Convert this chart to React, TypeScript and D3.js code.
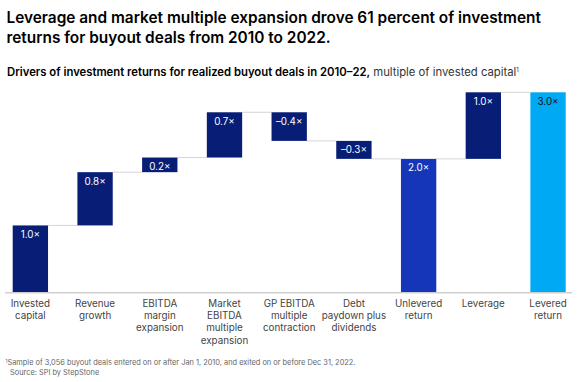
import React from "react";
import * as d3 from "d3";

const categories: string[][] = [
  ["Invested", "capital"],
  ["Revenue", "growth"],
  ["EBITDA", "margin", "expansion"],
  ["Market", "EBITDA", "multiple", "expansion"],
  ["GP EBITDA", "multiple", "contraction"],
  ["Debt", "paydown plus", "dividends"],
  ["Unlevered", "return"],
  ["Leverage"],
  ["Levered", "return"],
];
const values: number[] = [1.0, 0.8, 0.22, 0.68, -0.43, -0.27, 2.0, 1.0, 3.0];
const kinds: string[] = ["step", "step", "step", "step", "step", "step", "total", "step", "grand"];

const W = 580;
const H = 382;
const FONT = "Inter, 'Noto Sans', Roboto, sans-serif";

const fmt = (v: number) => d3.format(".1f")(v).replace("-", "–").replace("−", "–") + "×";

export default function App() {
  const x = d3
    .scaleBand<number>()
    .domain(d3.range(values.length))
    .range([12.7, 565.7])
    .paddingInner(0.454)
    .paddingOuter(0);
  const y = d3.scaleLinear().domain([0, 3]).range([292, 92.3]);

  let running = 0;
  const segs = values.map((v, i) => {
    let y0: number, y1: number;
    if (kinds[i] === "step") {
      y0 = running;
      y1 = running + v;
      running = y1;
    } else {
      y0 = 0;
      y1 = v;
      if (kinds[i] === "total") running = v;
    }
    return { i, lo: Math.min(y0, y1), hi: Math.max(y0, y1), end: y1 };
  });

  const colorFor = (k: string) =>
    k === "total" ? "#1536b8" : k === "grand" ? "#00a9f4" : "#071d76";

  const bw = x.bandwidth();

  return (
    <svg
      width={W}
      height={H}
      style={{ position: "absolute", left: 0, top: 0, background: "#fff" }}
      fontFamily={FONT}
    >
      <text x={6.5} y={23} fontSize={15.4} fontWeight={600} fill="#000">
        Leverage and market multiple expansion drove 61 percent of investment
      </text>
      <text x={6.5} y={43} fontSize={15.4} fontWeight={600} fill="#000">
        returns for buyout deals from 2010 to 2022.
      </text>
      <text x={7} y={75.5} fontSize={11.3} fill="#000">
        <tspan fontWeight={600}>Drivers of investment returns for realized buyout deals in 2010–22,</tspan>
        <tspan fill="#333"> multiple of invested capital</tspan>
        <tspan fontSize={6} dy={-4} fill="#333">1</tspan>
      </text>

      {segs.slice(0, -1).map((s, i) => {
        const level = kinds[i] === "grand" ? s.hi : s.end;
        const x1 = (x(i) as number) + bw;
        const x2 = x(i + 1) as number;
        return (
          <line
            key={"c" + i}
            x1={x1}
            x2={x2}
            y1={y(level)}
            y2={y(level)}
            stroke="#d4d4d4"
            strokeWidth={1}
          />
        );
      })}

      {segs.map((s) => (
        <rect
          key={"b" + s.i}
          x={x(s.i)}
          y={y(s.hi)}
          width={bw}
          height={y(s.lo) - y(s.hi)}
          fill={colorFor(kinds[s.i])}
        />
      ))}

      {segs.map((s) => (
        <text
          key={"v" + s.i}
          x={(x(s.i) as number) + bw / 2}
          y={y(s.hi) + 12.5}
          textAnchor="middle"
          fontSize={9.8}
          fill={kinds[s.i] === "grand" ? "#111" : "#fff"}
        >
          {fmt(values[s.i])}
        </text>
      ))}

      <line x1={5} x2={572} y1={292.7} y2={292.7} stroke="#d0d0d0" strokeWidth={1.5} />

      {categories.map((lines, i) => (
        <text
          key={"k" + i}
          x={(x(i) as number) + bw / 2}
          y={307}
          textAnchor="middle"
          fontSize={9.8}
          fill="#444"
        >
          {lines.map((l, j) => (
            <tspan key={j} x={(x(i) as number) + bw / 2} dy={j === 0 ? 0 : 12.2}>
              {l}
            </tspan>
          ))}
        </text>
      ))}

      <text x={5.5} y={365} fontSize={7.4} fill="#666">
        <tspan fontSize={4.8} dy={-2.5}>1</tspan>
        <tspan dy={2.5}>Sample of 3,056 buyout deals entered on or after Jan 1, 2010, and exited on or before Dec 31, 2022.</tspan>
      </text>
      <text x={10} y={374.5} fontSize={7.4} fill="#666">
        Source: SPI by StepStone
      </text>
    </svg>
  );
}
